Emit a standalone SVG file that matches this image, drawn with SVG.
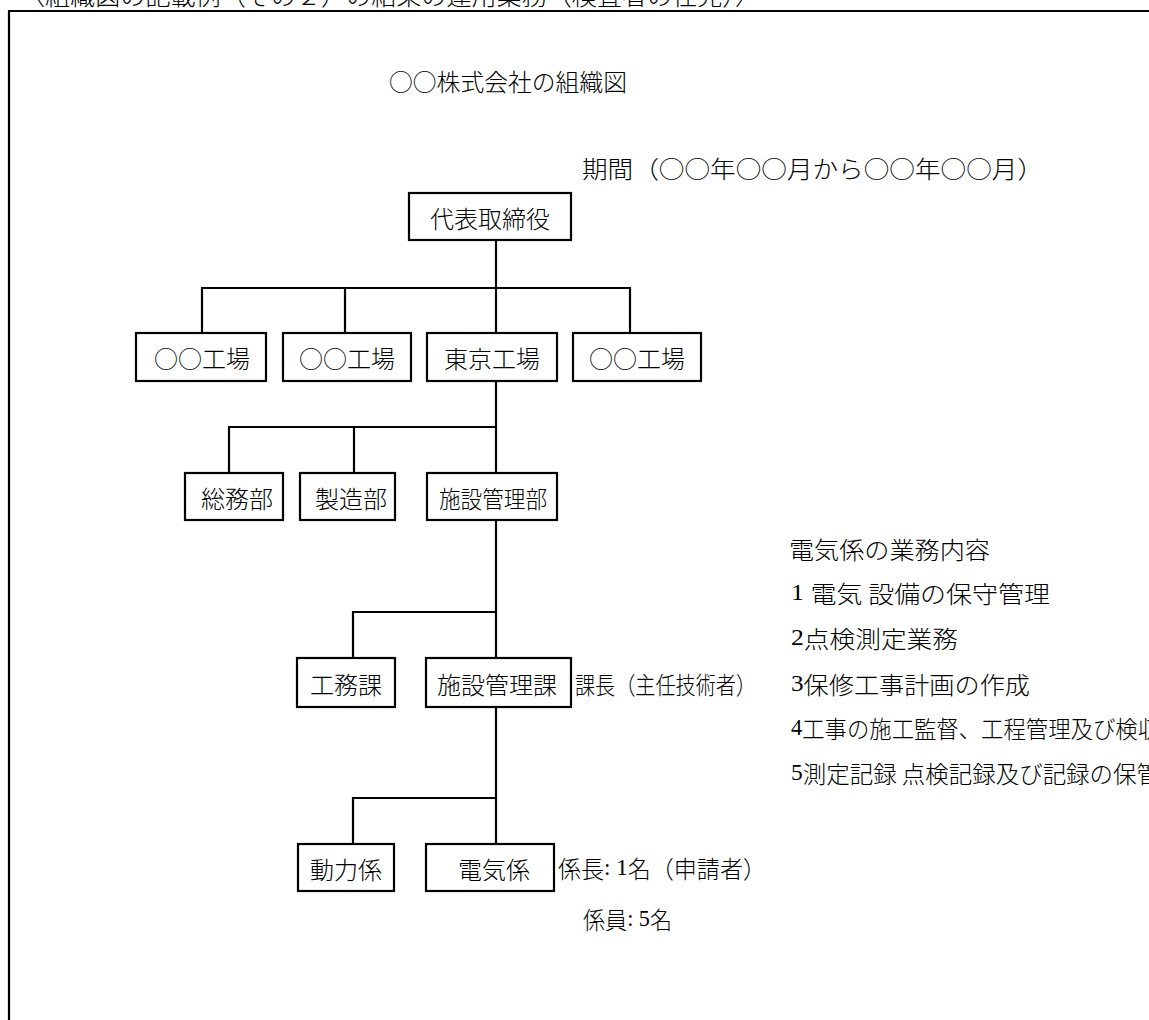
<svg xmlns="http://www.w3.org/2000/svg" width="1149" height="1020" viewBox="0 0 1149 1020">
<style>
text{font-family:'Noto Sans CJK JP','Liberation Sans',sans-serif;font-size:24px;font-weight:300;fill:#000;dominant-baseline:central}
.d{font-family:'Liberation Serif',serif;font-weight:normal}
.c{text-anchor:middle}
.box{fill:#fff;stroke:#000;stroke-width:2.2}
.ln{fill:none;stroke:#000;stroke-width:2.2}
</style>
<rect width="1149" height="1020" fill="#fff"/>
<text x="20" y="-6" textLength="740" lengthAdjust="spacingAndGlyphs">〈組織図の記載例（その２）の結果の運用業務（検査者の任免）〉</text>
<path class="ln" d="M9,1020 V11 H1149"/>
<text x="389" y="80" textLength="238" lengthAdjust="spacingAndGlyphs">○○株式会社の組織図</text>
<text x="582" y="167" textLength="461" lengthAdjust="spacingAndGlyphs">期間（○○年○○月から○○年○○月）</text>
<g id="connectors">
<path class="ln" d="M496,240 V333"/>
<path class="ln" d="M202,333 V288 H630 V333"/>
<path class="ln" d="M345,288 V333"/>
<path class="ln" d="M496,381 V473"/>
<path class="ln" d="M229,473 V427 H496"/>
<path class="ln" d="M354,427 V473"/>
<path class="ln" d="M496,520 V658"/>
<path class="ln" d="M353,658 V612 H496"/>
<path class="ln" d="M496,707 V844"/>
<path class="ln" d="M353,844 V798 H496"/>
</g>
<g id="n1"><rect class="box" x="409" y="193" width="162" height="47"/><text class="c" x="490" y="217">代表取締役</text></g>
<g id="n2"><rect class="box" x="136" y="333" width="130" height="48"/><text class="c" x="202" y="357">○○工場</text></g>
<g id="n3"><rect class="box" x="283" y="333" width="128" height="48"/><text class="c" x="347" y="357">○○工場</text></g>
<g id="n4"><rect class="box" x="427" y="333" width="130" height="48"/><text class="c" x="492" y="357">東京工場</text></g>
<g id="n5"><rect class="box" x="573" y="333" width="128" height="48"/><text class="c" x="637" y="357">○○工場</text></g>
<g id="n6"><rect class="box" x="185" y="473" width="98" height="47"/><text class="c" x="237" y="497">総務部</text></g>
<g id="n7"><rect class="box" x="300" y="473" width="95" height="47"/><text class="c" x="351" y="497">製造部</text></g>
<g id="n8"><rect class="box" x="427" y="473" width="130" height="47"/><text class="c" x="493" y="497" textLength="108" lengthAdjust="spacingAndGlyphs">施設管理部</text></g>
<g id="n9"><rect class="box" x="297" y="658" width="98" height="49"/><text class="c" x="346" y="683">工務課</text></g>
<g id="n10"><rect class="box" x="426" y="658" width="145" height="49"/><text class="c" x="497" y="683">施設管理課</text></g>
<g id="n11"><rect class="box" x="298" y="844" width="96" height="47"/><text class="c" x="346" y="868">動力係</text></g>
<g id="n12"><rect class="box" x="426" y="844" width="128" height="47"/><text class="c" x="494" y="868">電気係</text></g>
<text x="575" y="683" textLength="181" lengthAdjust="spacingAndGlyphs">課長（主任技術者）</text>
<text x="558" y="867" textLength="208" lengthAdjust="spacingAndGlyphs">係長<tspan class="d">: 1</tspan>名（申請者）</text>
<text x="583" y="918" textLength="89" lengthAdjust="spacingAndGlyphs">係員<tspan class="d">: 5</tspan>名</text>
<text x="789" y="548" textLength="201" lengthAdjust="spacingAndGlyphs">電気係の業務内容</text>
<text x="791" y="592" textLength="259" lengthAdjust="spacingAndGlyphs"><tspan class="d">1 </tspan>電気 設備の保守管理</text>
<text x="791" y="637" textLength="167" lengthAdjust="spacingAndGlyphs"><tspan class="d">2</tspan>点検測定業務</text>
<text x="791" y="683" textLength="239" lengthAdjust="spacingAndGlyphs"><tspan class="d">3</tspan>保修工事計画の作成</text>
<text x="791" y="727" textLength="369" lengthAdjust="spacingAndGlyphs"><tspan class="d">4</tspan>工事の施工監督、工程管理及び検収</text>
<text x="791" y="772" textLength="369" lengthAdjust="spacingAndGlyphs"><tspan class="d">5</tspan>測定記録 点検記録及び記録の保管</text>
</svg>
